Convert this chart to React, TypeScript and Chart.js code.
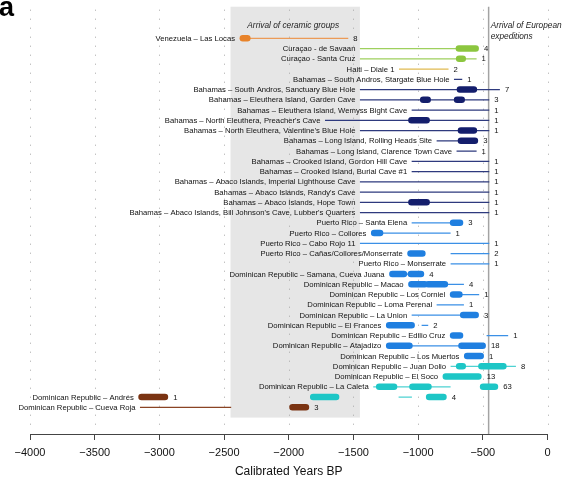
import React, { useEffect, useRef } from 'react';
import { Chart, registerables } from 'chart.js';

Chart.register(...registerables);

// ---------- data ----------
const rowLabels: string[] = [
  'Venezuela – Las Locas',
  'Curaçao - de Savaan',
  'Curaçao - Santa Cruz',
  'Haiti – Diale 1',
  'Bahamas – South Andros, Stargate Blue Hole',
  'Bahamas – South Andros, Sanctuary Blue Hole',
  'Bahamas – Eleuthera Island, Garden Cave',
  'Bahamas – Eleuthera Island, Wemyss Bight Cave',
  "Bahamas – North Eleuthera, Preacher's Cave",
  "Bahamas – North Eleuthera, Valentine's Blue Hole",
  'Bahamas – Long Island, Rolling Heads Site',
  'Bahamas – Long Island, Clarence Town Cave',
  'Bahamas – Crooked Island, Gordon Hill Cave',
  'Bahamas – Crooked Island, Burial Cave #1',
  'Bahamas – Abaco Islands, Imperial Lighthouse Cave',
  "Bahamas – Abaco Islands, Randy's Cave",
  'Bahamas – Abaco Islands, Hope Town',
  "Bahamas – Abaco Islands, Bill Johnson's Cave, Lubber's Quarters",
  'Puerto Rico – Santa Elena',
  'Puerto Rico – Collores',
  'Puerto Rico – Cabo Rojo 11',
  'Puerto Rico – Cañas/Collores/Monserrate',
  'Puerto Rico – Monserrate',
  'Dominican Republic – Samana, Cueva Juana',
  'Dominican Republic – Macao',
  'Dominican Republic – Los Corniel',
  'Dominican Republic – Loma Perenal',
  'Dominican Republic – La Union',
  'Dominican Republic – El Frances',
  'Dominican Republic – Edilio Cruz',
  'Dominican Republic – Atajadizo',
  'Dominican Republic – Los Muertos',
  'Dominican Republic – Juan Dolio',
  'Dominican Republic – El Soco',
  'Dominican Republic – La Caleta',
  'Dominican Republic – Andrés',
  'Dominican Republic – Cueva Roja',
];

// [row (1-based), from (cal BP), to (cal BP), group]
type Seg = [number, number, number, string];

const thinLines: Seg[] = [
  [1, -2350, -1540, 'ven'],
  [2, -1450, -555, 'cur'],
  [3, -1450, -548, 'cur'],
  [4, -1148, -765, 'hai'],
  [5, -723, -659, 'bah'],
  [6, -1450, -368, 'bah'],
  [7, -1450, -450, 'bah'],
  [8, -1050, -450, 'bah'],
  [9, -1720, -450, 'bah'],
  [10, -1450, -450, 'bah'],
  [11, -857, -561, 'bah'],
  [12, -703, -548, 'bah'],
  [13, -1050, -450, 'bah'],
  [14, -1050, -450, 'bah'],
  [15, -1450, -450, 'bah'],
  [16, -1450, -450, 'bah'],
  [17, -1450, -450, 'bah'],
  [18, -1450, -450, 'bah'],
  [19, -1050, -676, 'blu'],
  [20, -1340, -749, 'blu'],
  [21, -1450, -450, 'blu'],
  [22, -749, -450, 'blu'],
  [23, -749, -450, 'blu'],
  [24, -1199, -978, 'blu'],
  [25, -1052, -646, 'blu'],
  [26, -730, -528, 'blu'],
  [27, -857, -646, 'blu'],
  [28, -1050, -555, 'blu'],
  [29, -973, -922, 'blu'],
  [30, -471, -304, 'blu'],
  [31, -1224, -501, 'blu'],
  [33, -749, -244, 'cya'],
  [35, -1347, -749, 'cya'],
  [36, -1151, -1048, 'cya'],
  [37, -3150, -2445, 'brn'],
];

const bars: Seg[] = [
  [1, -2355, -2320, 'ven'],
  [2, -685, -555, 'cur'],
  [3, -683, -655, 'cur'],
  [6, -677, -569, 'bah'],
  [7, -961, -926, 'bah'],
  [7, -699, -663, 'bah'],
  [9, -1052, -934, 'bah'],
  [10, -669, -569, 'bah'],
  [11, -669, -561, 'bah'],
  [17, -1052, -934, 'bah'],
  [19, -730, -676, 'blu'],
  [20, -1340, -1294, 'blu'],
  [22, -1059, -967, 'blu'],
  [24, -1199, -1110, 'blu'],
  [24, -1056, -978, 'blu'],
  [25, -1052, -948, 'blu'],
  [25, -923, -793, 'blu'],
  [26, -730, -681, 'blu'],
  [28, -652, -555, 'blu'],
  [29, -1224, -1050, 'blu'],
  [30, -730, -676, 'blu'],
  [31, -1224, -1067, 'blu'],
  [31, -665, -501, 'blu'],
  [32, -621, -516, 'blu'],
  [33, -683, -655, 'cya'],
  [33, -511, -341, 'cya'],
  [34, -786, -534, 'cya'],
  [35, -1301, -1186, 'cya'],
  [35, -1044, -920, 'cya'],
  [35, -498, -406, 'cya'],
  [36, -1811, -1634, 'cya'],
  [36, -915, -804, 'cya'],
  [36, -3138, -2957, 'brn'],
  [37, -1971, -1867, 'brn'],
];

// [row, group, number of dates]
const counts: [number, string, string][] = [
  [1, 'ven', '8'], [2, 'cur', '4'], [3, 'cur', '1'], [4, 'hai', '2'],
  [5, 'bah', '1'], [6, 'bah', '7'], [7, 'bah', '3'], [8, 'bah', '1'],
  [9, 'bah', '1'], [10, 'bah', '1'], [11, 'bah', '3'], [12, 'bah', '1'],
  [13, 'bah', '1'], [14, 'bah', '1'], [15, 'bah', '1'], [16, 'bah', '1'],
  [17, 'bah', '1'], [18, 'bah', '1'], [19, 'blu', '3'], [20, 'blu', '1'],
  [21, 'blu', '1'], [22, 'blu', '2'], [23, 'blu', '1'], [24, 'blu', '4'],
  [25, 'blu', '4'], [26, 'blu', '1'], [27, 'blu', '1'], [28, 'blu', '3'],
  [29, 'blu', '2'], [30, 'blu', '1'], [31, 'blu', '18'], [32, 'blu', '1'],
  [33, 'cya', '8'], [34, 'cya', '13'], [35, 'cya', '63'], [36, 'cya', '4'],
  [36, 'brn', '1'], [37, 'brn', '3'],
];

const groupNames = ['ven', 'cur', 'hai', 'bah', 'blu', 'cya', 'brn'];
const barColors: Record<string, string> = {
  ven: '#E8832A', cur: '#8CC63F', hai: '#E2BE5A', bah: '#141E6C',
  blu: '#1F7FE0', cya: '#1DC6C6', brn: '#7A3312',
};
const lineColors: Record<string, string> = {
  ven: '#EC9B57', cur: '#9ED05E', hai: '#E0BA50', bah: '#2E3A7E',
  blu: '#3B90E6', cya: '#4ED2D2', brn: '#8A4424',
};

const ceramicPeriod = [-2450, -1450];
const europeanArrival = -455;
const xMin = -4000;
const xMax = 0;
const xStep = 500;

// ---------- chart helpers ----------
const BAR_W = 6.5;
const LINE_W = 1.3;
const LABEL_FONT = '7.7px "Liberation Sans", Arial, sans-serif';
const NOTE_FONT = 'italic 8.3px "Liberation Sans", Arial, sans-serif';

function toPoints(segs: Seg[], g: string) {
  const pts: { x: number; y: number | null }[] = [];
  for (const [r, a, b, gg] of segs) {
    if (gg !== g) continue;
    pts.push({ x: a, y: r }, { x: b, y: r }, { x: b, y: null });
  }
  return pts;
}

const annotPlugin = {
  id: 'annot',
  beforeDatasetsDraw(chart: any) {
    const { ctx, chartArea } = chart;
    const x = chart.scales.x;
    const y = chart.scales.y;
    ctx.save();
    // ceramic arrival shading
    const x0 = x.getPixelForValue(ceramicPeriod[0]);
    const x1 = x.getPixelForValue(ceramicPeriod[1]);
    const yTop = chartArea.top;
    const yBot = y.getPixelForValue(38);
    ctx.fillStyle = '#e6e6e6';
    ctx.fillRect(x0, yTop, x1 - x0, yBot - yTop);
    // dotted grid
    ctx.strokeStyle = '#a8a8a8';
    ctx.lineWidth = 1;
    ctx.setLineDash([1, 8]);
    const gBot = y.getPixelForValue(38.9);
    for (let t = xMin; t <= xMax; t += xStep) {
      const px = Math.round(x.getPixelForValue(t)) + 0.5;
      ctx.beginPath();
      ctx.moveTo(px, yTop + 3);
      ctx.lineTo(px, gBot);
      ctx.stroke();
    }
    ctx.setLineDash([]);
    // European arrival line
    const ex = x.getPixelForValue(europeanArrival);
    ctx.strokeStyle = '#a3a3a3';
    ctx.lineWidth = 1.5;
    ctx.beginPath();
    ctx.moveTo(ex, yTop);
    ctx.lineTo(ex, chartArea.bottom);
    ctx.stroke();
    // notes
    ctx.fillStyle = '#222';
    ctx.font = NOTE_FONT;
    ctx.textBaseline = 'middle';
    ctx.textAlign = 'center';
    ctx.fillText('Arrival of ceramic groups', x.getPixelForValue((ceramicPeriod[0] + ceramicPeriod[1]) / 2) - 2, y.getPixelForValue(-0.2));
    ctx.textAlign = 'left';
    ctx.fillText('Arrival of European', ex + 2, y.getPixelForValue(-0.2));
    ctx.fillText('expeditions', ex + 2, y.getPixelForValue(0.84));
    ctx.restore();
  },
  afterDatasetsDraw(chart: any) {
    const { ctx } = chart;
    const x = chart.scales.x;
    const y = chart.scales.y;
    const cap = BAR_W / 2;
    ctx.save();
    ctx.font = LABEL_FONT;
    ctx.fillStyle = '#111';
    ctx.textBaseline = 'middle';
    // site labels, right-aligned just left of the earliest mark
    rowLabels.forEach((label, i) => {
      const r = i + 1;
      let minPx = Infinity;
      for (const [rr, a] of thinLines) if (rr === r) minPx = Math.min(minPx, x.getPixelForValue(a));
      for (const [rr, a] of bars) if (rr === r) minPx = Math.min(minPx, x.getPixelForValue(a) - cap);
      ctx.textAlign = 'right';
      ctx.fillText(label, minPx - 4.5, y.getPixelForValue(r) + 0.5);
    });
    // counts, just right of the latest mark of the group
    for (const [r, g, txt] of counts) {
      let maxPx = -Infinity;
      for (const [rr, , b, gg] of thinLines) if (rr === r && gg === g) maxPx = Math.max(maxPx, x.getPixelForValue(b));
      for (const [rr, , b, gg] of bars) if (rr === r && gg === g) maxPx = Math.max(maxPx, x.getPixelForValue(b) + cap);
      ctx.textAlign = 'left';
      ctx.fillText(txt, maxPx + 5, y.getPixelForValue(r) + 0.5);
    }
    ctx.restore();
  },
  afterDraw(chart: any) {
    const { ctx } = chart;
    ctx.save();
    ctx.fillStyle = '#000';
    ctx.font = 'bold 27px "Liberation Sans", Arial, sans-serif';
    ctx.textAlign = 'left';
    ctx.textBaseline = 'alphabetic';
    ctx.fillText('a', -1, 16);
    ctx.restore();
  },
};

export default function App() {
  const ref = useRef<HTMLCanvasElement>(null);
  useEffect(() => {
    const datasets: any[] = [];
    for (const g of groupNames) {
      datasets.push({
        label: g + ' range',
        data: toPoints(thinLines, g),
        borderColor: lineColors[g],
        borderWidth: LINE_W,
        borderCapStyle: 'butt',
        pointRadius: 0,
        spanGaps: false,
        tension: 0,
        fill: false,
        order: 2,
      });
    }
    for (const g of groupNames) {
      datasets.push({
        label: g + ' dense',
        data: toPoints(bars, g),
        borderColor: barColors[g],
        borderWidth: BAR_W,
        borderCapStyle: 'round',
        borderJoinStyle: 'round',
        pointRadius: 0,
        spanGaps: false,
        tension: 0,
        fill: false,
        order: 1,
      });
    }
    const chart = new Chart(ref.current as HTMLCanvasElement, {
      type: 'line',
      data: { datasets },
      plugins: [annotPlugin],
      options: {
        animation: false,
        responsive: false,
        devicePixelRatio: 1,
        events: [],
        layout: { padding: { left: 30, right: 17.5, top: 6.7, bottom: 0 } },
        plugins: { legend: { display: false }, tooltip: { enabled: false } },
        scales: {
          x: {
            type: 'linear',
            min: xMin,
            max: xMax,
            afterFit: (scale: any) => { scale.height = 50; },
            ticks: {
              stepSize: xStep,
              autoSkip: false,
              maxRotation: 0,
              padding: 6,
              color: '#111',
              font: { family: '"Liberation Sans", Arial, sans-serif', size: 11 },
              callback: (v: any) => (Number(v) < 0 ? '\u2212' + Math.abs(Number(v)) : String(v)),
            },
            grid: { drawOnChartArea: false, drawTicks: true, tickLength: 6, color: '#444', lineWidth: 1 },
            border: { display: true, color: '#444', width: 1 },
            title: {
              display: true,
              text: 'Calibrated Years BP',
              color: '#111',
              font: { family: '"Liberation Sans", Arial, sans-serif', size: 12 },
              padding: { top: 0, bottom: 5.5 },
            },
          },
          y: {
            type: 'linear',
            display: false,
            reverse: true,
            min: -2.08,
            max: 39.6,
          },
        },
      } as any,
    });
    return () => chart.destroy();
  }, []);
  return (
    <div style={{ position: 'absolute', left: 0, top: 0, width: 565, height: 484, background: '#fff' }}>
      <canvas ref={ref} width={565} height={484} style={{ display: 'block' }} />
    </div>
  );
}
